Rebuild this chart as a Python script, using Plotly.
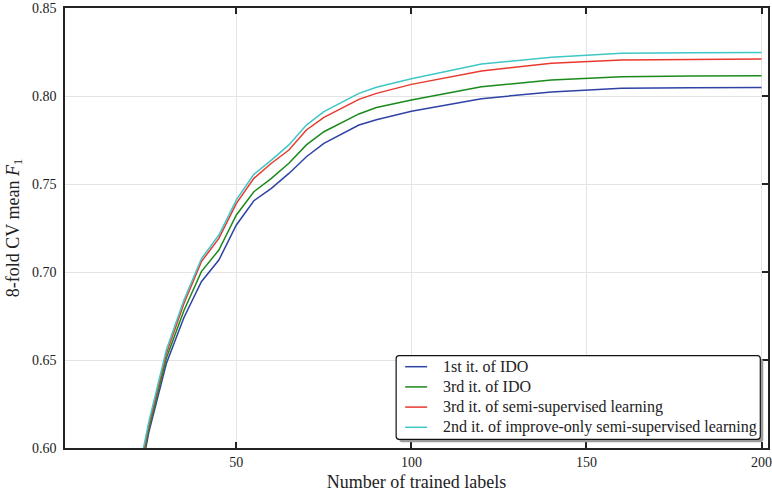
import plotly.graph_objects as go

x_labels = [20, 25, 30, 35, 40, 45, 50, 55, 60, 65, 70, 75, 85, 90, 100, 120, 140, 160, 180, 200]

ido_1st = [0.557, 0.609, 0.648, 0.674, 0.6945, 0.7068, 0.7267, 0.7405, 0.7475, 0.756, 0.7655,
           0.7731, 0.7835, 0.7865, 0.7913, 0.7985, 0.8023, 0.8044, 0.8047, 0.8048]
ido_3rd = [0.560, 0.611, 0.651, 0.678, 0.7002, 0.7125, 0.7324, 0.7456, 0.7532, 0.7618, 0.7722,
           0.7797, 0.7898, 0.7935, 0.7977, 0.8053, 0.8091, 0.8110, 0.8114, 0.8115]
semi_3rd = [0.563, 0.613, 0.6535, 0.682, 0.7059, 0.7191, 0.739, 0.7532, 0.7618, 0.7693, 0.7807,
            0.7879, 0.7981, 0.8015, 0.8066, 0.8142, 0.8186, 0.8205, 0.8208, 0.8210]
improve_2nd = [0.566, 0.615, 0.6557, 0.684, 0.7075, 0.721, 0.741, 0.7555, 0.7636, 0.7722, 0.7835,
               0.7911, 0.8015, 0.8050, 0.8098, 0.8182, 0.8220, 0.8243, 0.8246, 0.8247]

series_names = ["1st it. of IDO", "3rd it. of IDO", "3rd it. of semi-supervised learning",
                "2nd it. of improve-only semi-supervised learning"]
series_values = [ido_1st, ido_3rd, semi_3rd, improve_2nd]
colors = ["#2f42a5", "#1b8a1b", "#e8392e", "#3fc6c6"]

x_ticks = [50, 100, 150, 200]
y_ticks = [0.60, 0.65, 0.70, 0.75, 0.80, 0.85]

FONT = "Liberation Serif"
W, H = 772, 492
ML, MR, MT, MB = 65, 4.3, 8, 44
PW, PH = W - ML - MR, H - MT - MB


def px_x(p):
    return (p - ML) / PW


def px_y(p):
    return (H - MB - p) / PH


fig = go.Figure()
for name, vals, col in zip(series_names, series_values, colors):
    fig.add_trace(go.Scatter(x=x_labels, y=vals, mode="lines", name=name, showlegend=False,
                             line=dict(color=col, width=1.5)))

# invisible trace on right axis to carry right-side ticks
fig.add_trace(go.Scatter(x=[x_labels[0]], y=[y_ticks[0]], yaxis="y2", mode="lines",
                         showlegend=False, hoverinfo="skip", line=dict(width=0)))

fig.update_layout(
    width=W, height=H,
    margin=dict(l=ML, r=MR, t=MT, b=MB, autoexpand=False),
    paper_bgcolor="white", plot_bgcolor="white",
    font=dict(family=FONT, size=14, color="#222"),
    showlegend=False,
    xaxis=dict(range=[1.05, 201.85], tickvals=x_ticks, ticks="inside", ticklen=6,
               tickwidth=1.5, tickcolor="#222", mirror="ticks", showline=True,
               linecolor="#222", linewidth=1.6, showgrid=True, gridcolor="#e4e4e4",
               gridwidth=1, zeroline=False, ticklabelstandoff=0,
               ticklabeloverflow="allow",
               tickfont=dict(family=FONT, size=14, color="#222"),
               title=dict(text="Number of trained labels", standoff=8,
                          font=dict(family=FONT, size=18, color="#222"))),
    yaxis=dict(range=[0.60, 0.85], tickvals=y_ticks, tickformat=".2f", ticks="",
               showline=True, mirror=True, linecolor="#222", linewidth=1.6,
               showgrid=True, gridcolor="#e4e4e4", gridwidth=1, zeroline=False,
               ticklabelstandoff=4, ticklabeloverflow="allow",
               tickfont=dict(family=FONT, size=14, color="#222"),
               title=dict(text="8-fold CV mean <i>F</i><sub>1</sub>", standoff=8,
                          font=dict(family=FONT, size=18, color="#222"))),
    yaxis2=dict(range=[0.60, 0.85], tickvals=y_ticks, overlaying="y", side="right",
                ticks="inside", ticklen=6, tickwidth=1.5, tickcolor="#222",
                showticklabels=False, showgrid=False, zeroline=False, showline=False),
)


def rounded_rect(x0, y0, x1, y1, r):
    # pixel coordinates (y down) -> paper path with rounded corners
    X = px_x
    Y = px_y
    return (f"M {X(x0 + r)} {Y(y0)} L {X(x1 - r)} {Y(y0)} Q {X(x1)} {Y(y0)} {X(x1)} {Y(y0 + r)} "
            f"L {X(x1)} {Y(y1 - r)} Q {X(x1)} {Y(y1)} {X(x1 - r)} {Y(y1)} "
            f"L {X(x0 + r)} {Y(y1)} Q {X(x0)} {Y(y1)} {X(x0)} {Y(y1 - r)} "
            f"L {X(x0)} {Y(y0 + r)} Q {X(x0)} {Y(y0)} {X(x0 + r)} {Y(y0)} Z")


# legend box (drawn manually to match the reference layout)
LX0, LY0, LX1, LY1 = 396, 355.7, 760, 439.3
fig.add_shape(type="path", xref="paper", yref="paper",
              path=rounded_rect(LX0 + 3, LY0 + 3, LX1 + 3, LY1 + 3, 3),
              fillcolor="#9c9c9c", line=dict(width=0), layer="above")
fig.add_shape(type="path", xref="paper", yref="paper",
              path=rounded_rect(LX0, LY0, LX1, LY1, 3),
              fillcolor="white", line=dict(color="#111", width=1.2), layer="above")

row_y = [366.7, 386.9, 407.1, 427.3]
for name, col, ry in zip(series_names, colors, row_y):
    fig.add_shape(type="line", xref="paper", yref="paper",
                  x0=px_x(405), x1=px_x(427), y0=px_y(ry), y1=px_y(ry),
                  line=dict(color=col, width=1.5), layer="above")
    fig.add_annotation(xref="paper", yref="paper", x=px_x(441), y=px_y(ry),
                       xanchor="left", yanchor="middle", text=name, showarrow=False,
                       font=dict(family=FONT, size=16, color="#222"))

fig.write_html("out.html", config={"displayModeBar": False},
               post_script="document.body.style.margin='0px';")
